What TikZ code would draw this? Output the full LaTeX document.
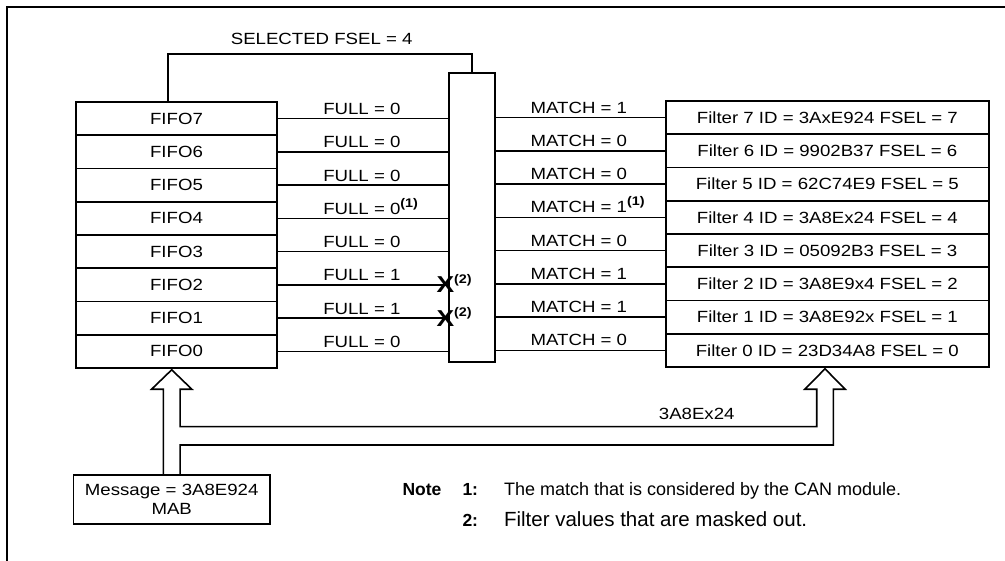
\documentclass[tikz,border=0pt]{standalone}
\usepackage{fontspec}
\setmainfont{Liberation Sans}[FakeStretch=1.15]
\newfontfamily\notefont{Liberation Sans}
\usetikzlibrary{calc}
\newcommand{\myref}[1]{\raisebox{0.45em}{\fontsize{12.5}{12.5}\selectfont\bfseries(#1)}}
\newcommand{\xref}[1]{\raisebox{0.42em}{\fontsize{12.5}{12.5}\selectfont\bfseries(#1)}}
\begin{document}
\begin{tikzpicture}[x=1pt,y=-1pt,
  line width=1.6pt, line join=miter,
  every node/.style={font=\fontsize{16.2}{19}\selectfont, inner sep=0pt},
  rowbox/.style={draw, minimum width=201pt, minimum height=33.25pt},
  filtbox/.style={draw, minimum width=323.3pt, minimum height=33.25pt},
  lbl/.style={anchor=base west},
  xmark/.style={anchor=base west, font=\fontsize{23}{23}\selectfont\bfseries},
  notebold/.style={anchor=base west, font=\notefont\fontsize{17.5}{20}\selectfont\bfseries},
  frame/.style={line width=2.2pt}]
\useasboundingbox (0,0) rectangle (1005,561);
% frame
\draw[frame] (7,561) -- (7,7.3) -- (1005,7.3);
% FIFO column
\foreach \i in {0,...,7}
  \node[rowbox] (f\i) at (176.5,{118.6+(7-\i)*33.25}) {FIFO\i};
% filter column
\foreach \i/\id in {7/3AxE924,6/9902B37,5/62C74E9,4/3A8Ex24,3/05092B3,2/3A8E9x4,1/3A8E92x,0/23D34A8}
  \node[filtbox] (g\i) at (827.35,{117.6+(7-\i)*33.25}) {Filter \i\ ID = \id\ FSEL = \i};
% selector
\node[draw, minimum width=46pt, minimum height=289pt] (mux) at (472,217.5) {};
% FULL connectors
\foreach \i/\t in {7/FULL = 0,6/FULL = 0,5/FULL = 0,4/FULL = 0\myref{1},3/FULL = 0,2/FULL = 1,1/FULL = 1,0/FULL = 0}{
  \draw (f\i.east) -- (f\i.east -| mux.west);
  \node[lbl] (fl\i) at ($(f\i.east)+(44.7,-4)$) {\t};
}
% MATCH connectors
\foreach \i/\t in {7/MATCH = 1,6/MATCH = 0,5/MATCH = 0,4/MATCH = 1\myref{1},3/MATCH = 0,2/MATCH = 1,1/MATCH = 1,0/MATCH = 0}{
  \draw (mux.east |- g\i.west) -- (g\i.west);
  \node[lbl] (ml\i) at ($(mux.east |- g\i.west)+(34,-4.5)$) {\t};
}
% masked-out marks
\node[xmark] (x2) at ($(f2.east -| mux.west)+(-12.5,8)$) {X\xref{2}};
\node[xmark] (x1) at ($(f1.east -| mux.west)+(-12.5,8)$) {X\xref{2}};
% selected FSEL feedback
\coordinate (s1) at (168,54);
\draw (f7.north -| s1) -- (s1) -| (mux.north);
\node[anchor=base] (sel) at (321.7,45) {SELECTED FSEL = 4};
% message box
\node[draw, minimum width=196.7pt, minimum height=49pt, align=center] (msg) at (171.7,499.5) {Message = 3A8E924\\MAB};
% hollow bus arrows
\coordinate (lt) at (171.7,369.8);
\coordinate (rt) at (825,368.8);
\draw ([xshift=-8.35pt]msg.north) -- (163.35,389.3) -- (151.5,389.3) -- (lt) -- (191.9,389.3) -- (180.05,389.3)
  -- (180.05,426.7) -- (816.7,426.7) -- (816.7,389.3) -- (804.8,389.3) -- (rt) -- (845.2,389.3) -- (833.3,389.3)
  -- (833.3,445) -- (180.05,445) -- ([xshift=8.35pt]msg.north);
\node[anchor=base] (bus) at (696.7,420) {3A8Ex24};
% notes
\node[notebold] (note) at (401.7,496) {Note};
\node[notebold] (n1) at (461.7,496) {1:};
\node[notebold] (n2) at (461.7,526) {2:};
\node[anchor=base west, font=\notefont\fontsize{18}{20}\selectfont] (t1) at (503.3,496) {The match that is considered by the CAN module.};
\node[anchor=base west, font=\notefont\fontsize{20.5}{22}\selectfont] (t2) at (503.3,526) {Filter values that are masked out.};
\end{tikzpicture}
\end{document}
